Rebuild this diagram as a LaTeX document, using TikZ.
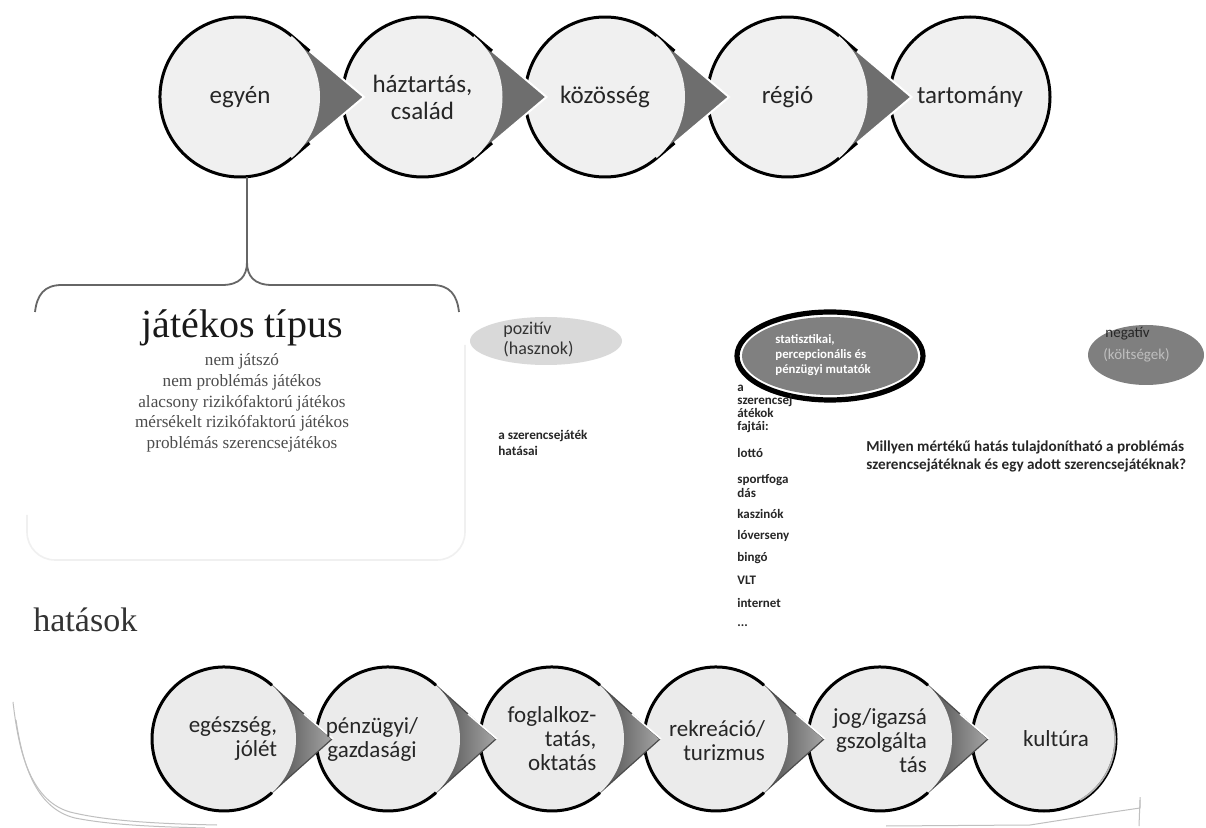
\documentclass[tikz,border=0pt]{standalone}
\usepackage{fontspec}
\setmainfont{Carlito}
\newfontfamily\serifface{Liberation Serif}
\usetikzlibrary{calc}
\definecolor{circfill}{HTML}{F0F0F0}
\definecolor{arrfill}{HTML}{6E6E6E}
\definecolor{botfill}{HTML}{EBEBEB}
\definecolor{posfill}{HTML}{D9D9D9}
\definecolor{negfill}{HTML}{7F7F7F}
\definecolor{statfill}{HTML}{808080}
\begin{document}
\begin{tikzpicture}[x=0.5pt,y=0.5pt,
  toptext/.style={font=\fontsize{12.5}{13.5}\selectfont, align=center, text=black!85},
  bottext/.style={font=\fontsize{11.5}{12}\selectfont, text=black!85},
  ring/.style={circle, minimum size=80pt, inner sep=0pt},
  bring/.style={circle, minimum size=72pt, inner sep=0pt},
  outline/.style={line width=1.5pt, draw=black},
  tinytxt/.style={font=\fontsize{6.5}{6.6}\selectfont\bfseries, align=left, anchor=west, inner sep=0pt, text=black!85},
  smalltxt/.style={align=left, anchor=west, inner sep=0pt},
  faint/.style={draw=black!25, line width=0.5pt}
]
\useasboundingbox (0,0) rectangle (1206,-828);
\fill[white] (0,0) rectangle (1206,-828);

% ---------- top row of teardrops ----------
\foreach \cx/\arr in {970/0, 787.5/1, 605/1, 422.5/1, 240/1}{
  \ifnum\arr=1
    \fill[arrfill, draw=white, line width=1pt] (\cx+51.6,-97+61.1) -- (\cx+124,-97) -- (\cx+51.6,-97-61.1) -- cycle;
    \draw[outline] (\cx+51.6,-97+61.1) -- (\cx+69.5,-97+46);
    \draw[outline] (\cx+51.6,-97-61.1) -- (\cx+69.5,-97-46);
    \fill[circfill] (\cx,-97) circle[radius=80];
    \draw[outline] (\cx+51.6,-97+61.1) arc[start angle=49.8, end angle=310.2, radius=80];
  \else
    \fill[circfill] (\cx,-97) circle[radius=80];
    \draw[outline] (\cx,-97) circle[radius=80];
  \fi
}
\node[ring, toptext] (c1) at (240,-97) {egyén};
\node[ring, toptext] (c2) at (422.5,-97) {háztartás,\\család};
\node[ring, toptext] (c3) at (605,-97) {közösség};
\node[ring, toptext] (c4) at (787.5,-97) {régió};
\node[ring, toptext] (c5) at (970,-97) {tartomány};

% ---------- brace ----------
\coordinate (bt) at (247,-262);
\draw[black!60, line width=0.7pt] (c1.south -| bt) -- (bt);
\draw[black!60, line width=0.9pt] (35,-312) .. controls (37,-295) and (44,-285) .. (62,-285) -- (222,-285)
   .. controls (240,-285) and (247,-276) .. (bt)
   .. controls (247,-276) and (254,-285) .. (272,-285) -- (432,-285)
   .. controls (450,-285) and (457,-295) .. (459,-312);

% faint box
\draw[black!6, line width=0.8pt, rounded corners=14] (465,-345) -- (465,-560) -- (27,-560) -- (27,-515);

\node[font=\serifface\fontsize{20}{22}\selectfont, text=black!90] (jt) at (242,-328) {játékos típus};
\node[font=\serifface\fontsize{8.6}{10.4}\selectfont, text=black!70, align=center] (jl) at (242,-403)
  {nem játszó\\nem problémás játékos\\alacsony rizikófaktorú játékos\\mérsékelt rizikófaktorú játékos\\problémás szerencsejátékos};

\node[font=\serifface\fontsize{17}{18}\selectfont, text=black!80, smalltxt] (hat) at (33,-620) {hatások};

% ---------- middle ----------
\fill[posfill] (546,-341) ellipse[x radius=76, y radius=24];
\node[smalltxt, font=\fontsize{9}{10}\selectfont, text=black!80] (pos) at (503,-340) {pozitív\\(hasznok)};

\node[tinytxt, font=\fontsize{6.6}{8}\selectfont\bfseries] (hatasai) at (498,-443) {a szerencsejáték\\hatásai};

\draw[black, line width=2.6pt, fill=white] (830,-356) ellipse[x radius=93, y radius=44];
\fill[statfill] (830,-356) ellipse[x radius=88, y radius=39];
\node[smalltxt, font=\fontsize{6.4}{7.5}\selectfont\bfseries, text=white] (stat) at (775,-355) {statisztikai,\\percepcionális és\\pénzügyi mutatók};

\node[tinytxt] (fajt) at (737,-409) {a\\szerencsej\\átékok\\fajtái:};
\node[tinytxt] (l1) at (737,-453) {lottó};
\node[tinytxt] (l2) at (737,-486) {sportfoga\\dás};
\node[tinytxt] (l3) at (737,-514) {kaszinók};
\node[tinytxt] (l4) at (737,-536) {lóverseny};
\node[tinytxt] (l5) at (737,-558) {bingó};
\node[tinytxt] (l6) at (737,-580) {VLT};
\node[tinytxt] (l7) at (737,-603) {internet};
\node[tinytxt] (l8) at (737,-626) {...};

\fill[negfill] (1146,-355) ellipse[x radius=58, y radius=30];
\node[smalltxt, font=\fontsize{7.5}{8}\selectfont, text=black!85] (neg1) at (1105,-334) {negatív};
\node[smalltxt, font=\fontsize{7.5}{8}\selectfont, text=black!25] (neg2) at (1103,-355) {(költségek)};

\node[tinytxt, font=\fontsize{7.6}{9}\selectfont\bfseries] (q) at (866,-456)
  {Millyen mértékű hatás tulajdonítható a problémás\\szerencsejátéknak és egy adott szerencsejátéknak?};

% ---------- bottom row ----------
\foreach \cx/\arr in {1044/0, 880/1, 716/1, 552/1, 388/1, 224/1}{
  \ifnum\arr=1
    \shade[left color=black!70, right color=black!35] (\cx+48,-739+53.7) -- (\cx+108,-739) -- (\cx+48,-739-53.7) -- cycle;
    \draw[black!70, line width=0.6pt] (\cx+48,-739+53.7) -- (\cx+108,-739) -- (\cx+48,-739-53.7);
    \draw[white, line width=0.8pt] (\cx+109,-739) -- (\cx+80,-739+25);
    \fill[botfill] (\cx,-739) circle[radius=72];
    \draw[outline] (\cx+48,-739+53.7) arc[start angle=48.2, end angle=311.8, radius=72];
  \else
    \fill[botfill] (\cx,-739) circle[radius=72];
    \draw[outline] (\cx,-739) circle[radius=72];
    \draw[black!30, line width=0.8pt] (\cx+68,-739+20) arc[start angle=17, end angle=-60, radius=70];
  \fi
}
\node[bring] (b1) at (224,-739) {};
\node[bring] (b2) at (388,-739) {};
\node[bring] (b3) at (552,-739) {};
\node[bring] (b4) at (716,-739) {};
\node[bring] (b5) at (880,-739) {};
\node[bring] (b6) at (1044,-739) {};
\node[bottext, align=right] (t1) at (233,-739) {egészség,\\jólét};
\node[bottext, align=center] (t2) at (372,-739) {pénzügyi/\\gazdasági};
\node[bottext, align=right] (t3) at (552,-739) {foglalkoz-\\tatás,\\oktatás};
\node[bottext, align=right] (t4) at (717,-741) {rekreáció/\\turizmus};
\node[bottext, align=right] (t5) at (880,-741) {jog/igazsá\\gszolgálta\\tás};
\node[bottext] (t6) at (1056,-739) {kultúra};

% ---------- decorative bottom lines ----------
\draw[faint] (13,-702) .. controls (18,-745) and (28,-800) .. (70,-812) .. controls (110,-822) and (170,-824) .. (217,-825);
\draw[faint] (16,-720) .. controls (22,-760) and (34,-808) .. (75,-818) .. controls (115,-826) and (170,-827) .. (205,-828);
\draw[faint] (886,-826) -- (1030,-825) -- (1113,-812) -- (1140,-808) -- (1140,-797);
\draw[faint] (1140,-800) -- (1139,-826);
\end{tikzpicture}
\end{document}
